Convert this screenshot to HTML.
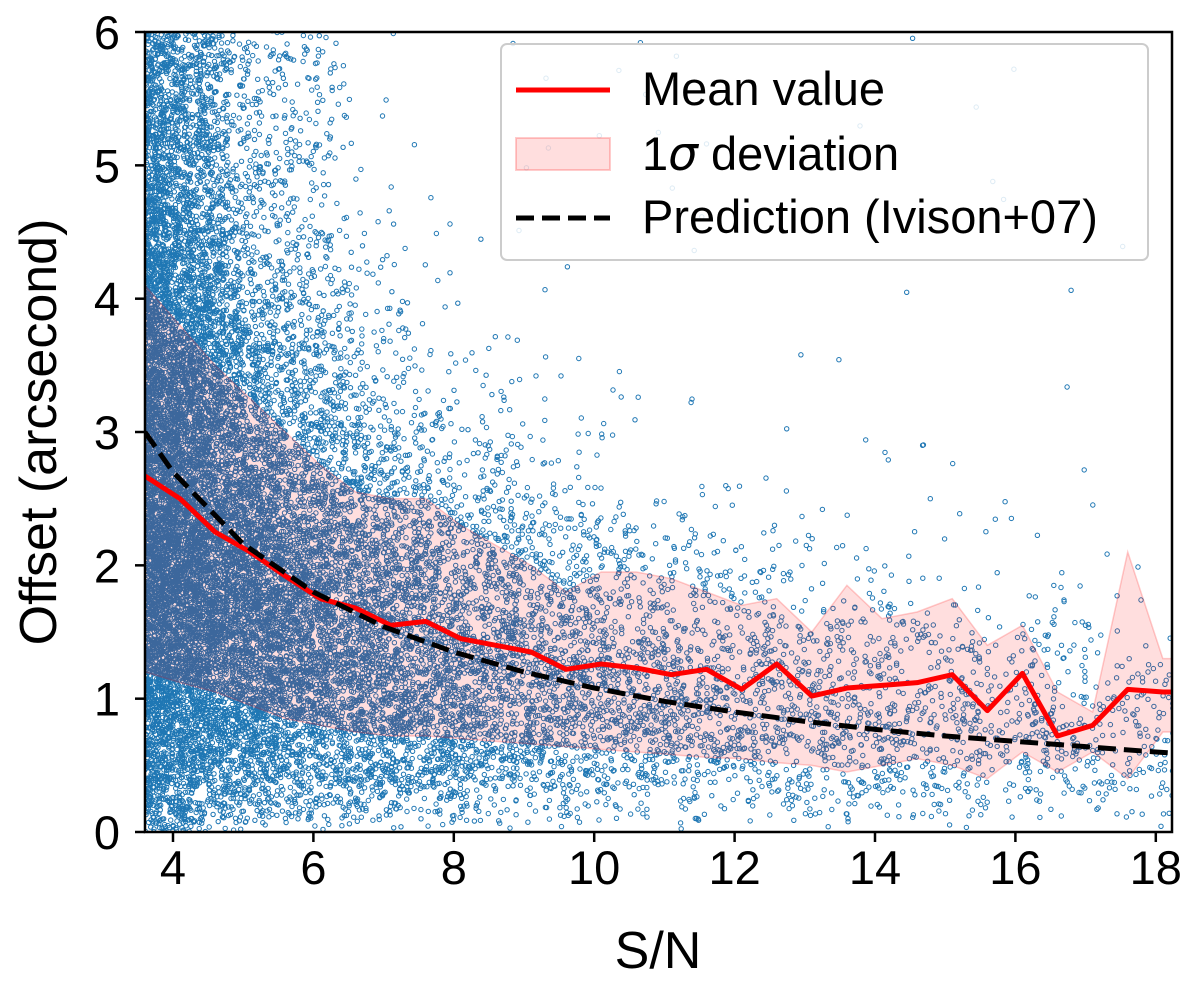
<!DOCTYPE html>
<html><head><meta charset="utf-8">
<style>
body{margin:0;background:#fff;}
svg{display:block;font-family:"Liberation Sans","DejaVu Sans",sans-serif;}
</style></head>
<body>
<svg id="chart" width="1200" height="983" viewBox="0 0 1200 983">
<defs><clipPath id="clip"><rect x="145" y="32" width="1027" height="800"/></clipPath></defs>
<g id="plot" clip-path="url(#clip)"></g>
<g id="axes"></g>
</svg>
<script>
const binX   = [3.6,4.1,4.6,5.1,5.6,6.1,6.6,7.1,7.6,8.1,8.6,9.1,9.6,10.1,10.6,11.1,11.6,12.1,12.6,13.1,13.6,14.1,14.6,15.1,15.6,16.1,16.6,17.1,17.6,18.1,18.3];
const meanY  = [2.67,2.5,2.25,2.1,1.92,1.75,1.68,1.55,1.58,1.45,1.4,1.35,1.22,1.26,1.23,1.18,1.22,1.07,1.26,1.02,1.08,1.1,1.12,1.18,0.91,1.19,0.72,0.8,1.07,1.05,1.05];
const upperY = [4.1,3.8,3.5,3.25,3.0,2.75,2.55,2.5,2.5,2.3,2.15,2.0,1.8,1.95,1.95,1.9,1.8,1.7,1.75,1.5,1.85,1.6,1.65,1.75,1.4,1.55,1.05,0.9,2.1,1.3,1.3];
const lowerY = [1.2,1.12,1.05,0.95,0.85,0.8,0.75,0.72,0.72,0.7,0.68,0.66,0.64,0.62,0.6,0.58,0.56,0.55,0.52,0.5,0.45,0.5,0.55,0.5,0.4,0.6,0.45,0.6,0.4,0.75,0.75];
const predX  = [3.6,4,5,6,7,8,9,10,11,12,13,14,15,16,17,18,18.3];
const predY  = [3.0,2.7,2.16,1.8,1.54,1.35,1.2,1.08,0.98,0.9,0.83,0.77,0.72,0.68,0.64,0.6,0.59];
const xTicks = [4,6,8,10,12,14,16,18];
const yTicks = [0,1,2,3,4,5,6];
const nScatter = 22000;

const X = v => 173 + (v-4)*70.2;
const Y = v => 832 - v*133.33;
const NS = "http://www.w3.org/2000/svg";
const plot = document.getElementById('plot'), axes = document.getElementById('axes');
function mk(tag, attrs, parent){const e=document.createElementNS(NS,tag);for(const k in attrs)e.setAttribute(k,attrs[k]);parent.appendChild(e);return e;}

// scatter texture (seeded sample cloud, mulberry32)
let s=12345;
const rnd=()=>{s=(s+0x6D2B79F5)|0;let t=Math.imul(s^(s>>>15),1|s);t=(t+Math.imul(t^(t>>>7),61|t))^t;return ((t^(t>>>14))>>>0)/4294967296;};
let d="";
for(let i=0;i<nScatter;i++){
  const sn = 3.6*Math.pow(1-rnd()*0.998,-1/1.75);
  if(sn>18.4) continue;
  const m = 10.5/sn + 0.3;
  const sig = m*0.72;
  let off = sig*Math.sqrt(-2*Math.log(1-rnd()*0.9999));
  const pu = sn<4.8 ? 0.42 : (sn<6.5 ? 0.18 : 0.02);
  if(rnd()<pu) off = rnd()*6.1;
  const px=X(sn), py=Y(off);
  d+=`M${(px+2.2).toFixed(1)} ${py.toFixed(1)}a2.2 2.2 0 1 0 -4.4 0a2.2 2.2 0 1 0 4.4 0`;
}
const sc = mk('path',{d:d,fill:'none',stroke:'#1f77b4','stroke-width':1},plot);



// band
let bd="M"+binX.map((x,i)=>X(x)+" "+Y(upperY[i])).join("L");
for(let i=binX.length-1;i>=0;i--) bd+="L"+X(binX[i])+" "+Y(lowerY[i]);
const band = mk('path',{d:bd+"Z",fill:'rgba(255,0,0,0.13)',stroke:'rgba(255,0,0,0.2)','stroke-width':1.5},plot);



const mean = mk('polyline',{points:binX.map((x,i)=>X(x)+","+Y(meanY[i])).join(" "),fill:'none',stroke:'#ff0000','stroke-width':5,'stroke-linejoin':'round'},plot);



const pred = mk('polyline',{points:predX.map((x,i)=>X(x)+","+Y(predY[i])).join(" "),fill:'none',stroke:'#000','stroke-width':5,'stroke-dasharray':'18,8'},plot);



// frame
const fr = mk('rect',{x:145,y:32,width:1027,height:800,fill:'none',stroke:'#000','stroke-width':2.5},axes);


xTicks.forEach(t=>{
  const l=mk('line',{x1:X(t),x2:X(t),y1:832,y2:842,stroke:'#000','stroke-width':2.5},axes);
  
  
  const tx=mk('text',{x:X(t),y:884,'font-size':47,'text-anchor':'middle'},axes);tx.textContent=t;
  
  
});
yTicks.forEach(t=>{
  const l=mk('line',{x1:135,x2:145,y1:Y(t),y2:Y(t),stroke:'#000','stroke-width':2.5},axes);
  
  
  const tx=mk('text',{x:120,y:Y(t)+17,'font-size':47,'text-anchor':'end'},axes);tx.textContent=t;
  
  
});
</script>
<svg style="position:absolute;left:0;top:0" width="1200" height="983">
<text x="658" y="968" font-size="52" text-anchor="middle" font-family="Liberation Sans, sans-serif">S/N</text>
<text transform="translate(56,432) rotate(-90)" font-size="52" text-anchor="middle" font-family="Liberation Sans, sans-serif">Offset (arcsecond)</text>
<g font-family="Liberation Sans, sans-serif" font-size="47">
<rect x="501" y="44" width="647" height="216" rx="6" fill="rgba(255,255,255,0.85)" stroke="#ccc" stroke-width="2"/>
<line x1="516" y1="90" x2="610" y2="90" stroke="#ff0000" stroke-width="5"/>
<text x="642" y="105">Mean value</text>
<rect x="516" y="138" width="94" height="32" fill="rgba(255,0,0,0.13)" stroke="rgba(255,0,0,0.2)" stroke-width="2"/>
<text x="642" y="170">1<tspan font-style="italic" font-family="DejaVu Sans, serif">σ</tspan> deviation</text>
<line x1="516" y1="218" x2="610" y2="218" stroke="#000" stroke-width="5" stroke-dasharray="18,8"/>
<text x="642" y="233">Prediction (Ivison+07)</text>
</g>
</svg>
</body></html>
